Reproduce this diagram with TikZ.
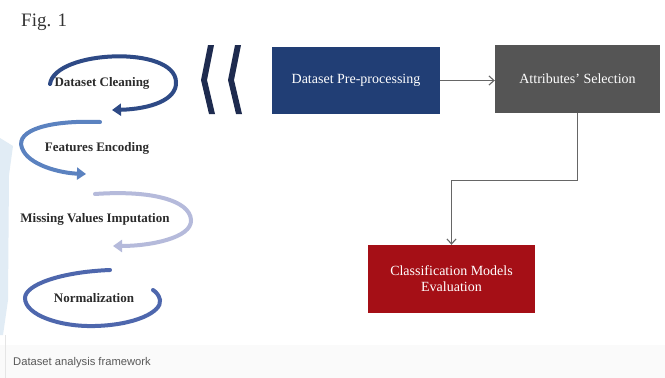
\documentclass[tikz,border=0pt]{standalone}
\usepackage{fontspec}
\setmainfont{Liberation Serif}
\newfontfamily\capfont{Liberation Sans}
\usetikzlibrary{arrows.meta}
\definecolor{boxblue}{HTML}{213E75}
\definecolor{boxgrey}{HTML}{555555}
\definecolor{boxred}{HTML}{A50F16}
\definecolor{chev}{HTML}{1E2B4F}
\definecolor{arrA}{HTML}{2E4A86}
\definecolor{arrB}{HTML}{5B82C0}
\definecolor{arrC}{HTML}{B5BADB}
\definecolor{arrD}{HTML}{4E67AD}
\definecolor{lblue}{HTML}{E1ECF5}
\definecolor{conncol}{HTML}{666666}
\definecolor{lbltext}{HTML}{2B2B2B}
\tikzset{
  procbox/.style={draw=none, text=white, inner sep=0pt, font=\fontsize{14}{16}\selectfont, align=center},
  lbl/.style={text=lbltext, inner sep=0pt, font=\bfseries\fontsize{13}{15}\selectfont},
  conn/.style={draw=conncol, line width=1.1pt, -{Straight Barb[length=5pt,width=9pt]}},
  curvarrow/.style={line width=4pt, line cap=round, -{Triangle[length=9pt,width=12pt]}},
}
\begin{document}
\begin{tikzpicture}[x=1pt,y=-1pt]
\useasboundingbox (0,0) rectangle (665,378);
\fill[white] (0,0) rectangle (665,378);
\fill[gray!4] (0,345) rectangle (665,378);
\draw[gray!20, line width=0.8pt] (5,335) -- (5,378);
% light blue side band
\fill[lblue] (0,138) -- (13,146) -- (9,175) -- (8,300) -- (3,335) -- (0,335) -- cycle;

% title and caption
\node[anchor=west, inner sep=0pt, text=black!80, font=\fontsize{19}{21}\selectfont] (fig) at (21,22) {Fig. 1};
\node[anchor=west, inner sep=0pt, text=black!65, font=\capfont\fontsize{11.2}{13}\selectfont] (cap) at (13,363) {Dataset analysis framework};

% process boxes
\node[procbox, fill=boxblue, minimum width=168pt, minimum height=67pt] (pre) at (356,80.5) {Dataset Pre-processing};
\node[procbox, fill=boxgrey, minimum width=165pt, minimum height=68pt] (sel) at (577.5,79) {Attributes' Selection};
\node[procbox, fill=boxred, minimum width=167pt, minimum height=68pt] (cls) at (451.5,279) {Classification Models\\Evaluation};

\draw[conn] (pre.east) -- (pre.east -| sel.west);
\draw[conn] (sel.south) -- ++(0,67) -| (cls.north);

% chevrons
\fill[chev] (208,45) -- (214,45) -- (207,80) -- (215,114) -- (209,114) -- (201,80) -- cycle;
\fill[chev] (235,45) -- (241,45) -- (234,80) -- (242,114) -- (236,114) -- (228,80) -- cycle;

% left-side labels
\node[lbl] (clean) at (102,83) {Dataset Cleaning};
\node[lbl] (feat) at (97,148) {Features Encoding};
\node[lbl] (miss) at (95,219) {Missing Values Imputation};
\node[lbl] (norm) at (94,298) {Normalization};

% curved arrows
\draw[curvarrow, arrA] (50,84) .. controls (55,50) and (175,45) .. (176,82) .. controls (177,100) and (150,109) .. (112,110);
\draw[curvarrow, arrB] (100,122) .. controls (50,120) and (15,130) .. (22,148) .. controls (28,165) and (60,173) .. (86,174);
\draw[curvarrow, arrC] (95,194) .. controls (150,190) and (190,200) .. (191,220) .. controls (192,238) and (150,246) .. (113,246);
\draw[line width=4pt, line cap=round, arrD] (110,270) .. controls (60,272) and (25,285) .. (25,298) .. controls (25,315) and (60,327) .. (95,326) .. controls (135,325) and (162,312) .. (160,300) .. controls (159,295) and (156,292) .. (153,290);
\end{tikzpicture}
\end{document}
